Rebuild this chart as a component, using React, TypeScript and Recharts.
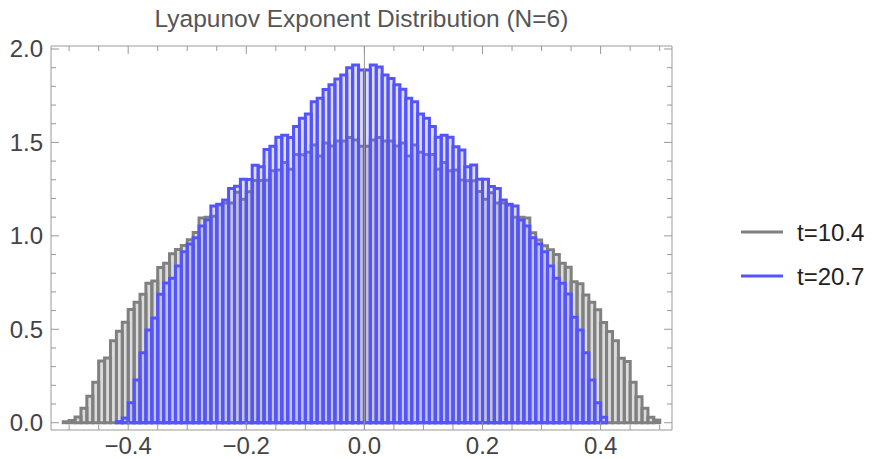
import React from 'react';
import { ComposedChart, Bar, XAxis, YAxis, ReferenceLine, Legend } from 'recharts';

// Histogram bins: left edge of first bin and bin width
const BIN_START = -0.51;
const BIN_WIDTH = 0.01;
const BLUE_START = -0.42;

// t=10.4 (gray) bin heights, bins from -0.51 to 0.50
const GRAY_T104 = [
  0.005, 0.012, 0.03, 0.078, 0.142, 0.217, 0.33, 0.346, 0.439, 0.489,
  0.537, 0.606, 0.645, 0.688, 0.747, 0.758, 0.83, 0.853, 0.904, 0.927,
  0.948, 0.979, 1.018, 1.096, 1.1, 1.105, 1.165, 1.176, 1.176, 1.233,
  1.196, 1.236, 1.296, 1.296, 1.297, 1.349, 1.353, 1.392, 1.356, 1.436,
  1.434, 1.447, 1.486, 1.427, 1.497, 1.481, 1.508, 1.508, 1.526, 1.513,
  1.479, 1.479, 1.513, 1.526, 1.508, 1.508, 1.481, 1.497, 1.427, 1.486,
  1.447, 1.436, 1.436, 1.356, 1.392, 1.349, 1.353, 1.299, 1.295, 1.295,
  1.237, 1.196, 1.231, 1.176, 1.176, 1.165, 1.1, 1.1, 1.096, 1.017,
  0.978, 0.947, 0.926, 0.9, 0.853, 0.832, 0.755, 0.743, 0.684, 0.645,
  0.604, 0.536, 0.488, 0.438, 0.345, 0.327, 0.216, 0.139, 0.077, 0.029,
  0.014,
];

// t=20.7 (blue) bin heights, bins from -0.42 to 0.41
const BLUE_T207 = [
  0.006, 0.025, 0.107, 0.228, 0.374, 0.496, 0.561, 0.688, 0.748, 0.773,
  0.839, 0.915, 0.956, 0.99, 1.053, 1.085, 1.16, 1.169, 1.192, 1.254,
  1.266, 1.303, 1.302, 1.378, 1.37, 1.462, 1.479, 1.528, 1.539, 1.526,
  1.585, 1.63, 1.652, 1.718, 1.736, 1.783, 1.808, 1.84, 1.861, 1.9,
  1.914, 1.888,
  1.888, 1.914, 1.903, 1.861, 1.842, 1.808, 1.785, 1.736, 1.718, 1.652,
  1.63, 1.585, 1.528, 1.538, 1.528, 1.477, 1.46, 1.37, 1.379, 1.303,
  1.303, 1.264, 1.254, 1.192, 1.169, 1.16, 1.085, 1.053, 0.99, 0.956,
  0.915, 0.839, 0.773, 0.746, 0.689, 0.564, 0.496, 0.375, 0.229, 0.107,
  0.029,
];

const X_TICKS = [-0.5, -0.45, -0.4, -0.35, -0.3, -0.25, -0.2, -0.15, -0.1, -0.05, 0, 0.05, 0.1, 0.15, 0.2, 0.25, 0.3, 0.35, 0.4, 0.45, 0.5];
const X_LABELED = [-0.4, -0.2, 0, 0.2, 0.4];
const Y_TICKS = [0, 0.1, 0.2, 0.3, 0.4, 0.5, 0.6, 0.7, 0.8, 0.9, 1, 1.1, 1.2, 1.3, 1.4, 1.5, 1.6, 1.7, 1.8, 1.9, 2];
const Y_LABELED = [0, 0.5, 1, 1.5, 2];
const X_DOMAIN: [number, number] = [-0.5307, 0.5209];
const Y_DOMAIN: [number, number] = [-0.039, 2.016];

const SERIES = [
  { key: 'gray', name: 't=10.4', color: '#808080' },
  { key: 'blue', name: 't=20.7', color: '#5454ff' },
];

const TITLE = 'Lyapunov Exponent Distribution (N=6)';
const FONT = '"Liberation Sans", Arial, sans-serif';
const FRAME = '#999999';

const blueOffset = Math.round((BLUE_START - BIN_START) / BIN_WIDTH);
const rows = GRAY_T104.map((g, i) => {
  const bi = i - blueOffset;
  return {
    x: Math.round((BIN_START + (i + 0.5) * BIN_WIDTH) * 10000) / 10000,
    gray: g,
    blue: bi >= 0 && bi < BLUE_T207.length ? BLUE_T207[bi] : undefined,
  };
});

const isIn = (v: number, arr: number[]) => arr.some((m) => Math.abs(m - v) < 1e-6);
const fmt = (v: number) => (v < -1e-9 ? '\u2212' : '') + Math.abs(v).toFixed(1);

const MAJOR = 8;
const MINOR = 5;

const BottomTick = (props: any) => {
  const { x, y, payload } = props;
  const major = isIn(payload.value, X_LABELED);
  return (
    <g>
      <line x1={x} x2={x} y1={y} y2={y - (major ? MAJOR : MINOR)} stroke={FRAME} strokeWidth={1} />
      {major && (
        <text x={x} y={y + 24} textAnchor="middle" fontSize={24} fontFamily={FONT} fill="#444">
          {fmt(payload.value)}
        </text>
      )}
    </g>
  );
};

const TopTick = (props: any) => {
  const { x, y, payload } = props;
  const major = isIn(payload.value, X_LABELED);
  return <line x1={x} x2={x} y1={y} y2={y + (major ? MAJOR : MINOR)} stroke={FRAME} strokeWidth={1} />;
};

const LeftTick = (props: any) => {
  const { x, y, payload } = props;
  const major = isIn(payload.value, Y_LABELED);
  return (
    <g>
      <line x1={x} x2={x + (major ? MAJOR : MINOR)} y1={y} y2={y} stroke={FRAME} strokeWidth={1} />
      {major && (
        <text x={x - 8} y={y + 8.5} textAnchor="end" fontSize={24} fontFamily={FONT} fill="#444">
          {fmt(payload.value)}
        </text>
      )}
    </g>
  );
};

const RightTick = (props: any) => {
  const { x, y, payload } = props;
  const major = isIn(payload.value, Y_LABELED);
  return <line x1={x} x2={x - (major ? MAJOR : MINOR)} y1={y} y2={y} stroke={FRAME} strokeWidth={1} />;
};

const LegendContent = (props: any) => {
  const payload = props.payload || [];
  const items = SERIES.filter((s) => payload.some((p: any) => p.dataKey === s.key || p.value === s.name));
  const list = items.length ? items : SERIES;
  return (
    <svg width={131} height={90}>
      {list.map((s, i) => (
        <g key={s.key}>
          <line x1={0} x2={42} y1={22 + i * 44} y2={22 + i * 44} stroke={s.color} strokeWidth={3} />
          <text x={56} y={30.5 + i * 44} fontSize={24} fontFamily={FONT} fill="#222">
            {s.name}
          </text>
        </g>
      ))}
    </svg>
  );
};

export default function App() {
  return (
    <div style={{ position: 'absolute', left: 0, top: 0, width: 872, height: 459, background: '#fff' }}>
      <div
        style={{
          position: 'absolute',
          left: 51,
          width: 621,
          top: 4,
          textAlign: 'center',
          fontFamily: FONT,
          fontSize: 24.5,
          color: '#555555',
          lineHeight: '30px',
          whiteSpace: 'nowrap',
        }}
      >
        {TITLE}
      </div>
      <ComposedChart
        width={872}
        height={459}
        data={rows}
        margin={{ top: 45, right: 199, bottom: 0, left: 11 }}
        barCategoryGap={0}
        barGap={0}
      >
        <XAxis
          xAxisId="bottom"
          dataKey="x"
          type="number"
          domain={X_DOMAIN}
          allowDataOverflow
          ticks={X_TICKS}
          interval={0}
          tick={(p: any) => <BottomTick {...p} />}
          tickLine={false}
          tickSize={0}
          tickMargin={0}
          height={29}
          axisLine={{ stroke: FRAME }}
        />
        <XAxis
          xAxisId="top"
          orientation="top"
          dataKey="x"
          type="number"
          domain={X_DOMAIN}
          allowDataOverflow
          ticks={X_TICKS}
          interval={0}
          tick={(p: any) => <TopTick {...p} />}
          tickLine={false}
          tickSize={0}
          tickMargin={0}
          height={1}
          axisLine={{ stroke: FRAME }}
        />
        <YAxis
          yAxisId="left"
          type="number"
          domain={Y_DOMAIN}
          allowDataOverflow
          ticks={Y_TICKS}
          interval={0}
          tick={(p: any) => <LeftTick {...p} />}
          tickLine={false}
          tickSize={0}
          tickMargin={0}
          width={40}
          axisLine={{ stroke: FRAME }}
        />
        <YAxis
          yAxisId="right"
          orientation="right"
          type="number"
          domain={Y_DOMAIN}
          allowDataOverflow
          ticks={Y_TICKS}
          interval={0}
          tick={(p: any) => <RightTick {...p} />}
          tickLine={false}
          tickSize={0}
          tickMargin={0}
          width={1}
          axisLine={{ stroke: FRAME }}
        />
        <Bar
          xAxisId="bottom"
          yAxisId="left"
          dataKey="gray"
          name={SERIES[0].name}
          fill={SERIES[0].color}
          fillOpacity={0.28}
          stroke={SERIES[0].color}
          strokeWidth={3}
          isAnimationActive={false}
        />
        <Bar
          xAxisId="top"
          yAxisId="right"
          dataKey="blue"
          name={SERIES[1].name}
          fill={SERIES[1].color}
          fillOpacity={0.2}
          stroke={SERIES[1].color}
          strokeWidth={3}
          isAnimationActive={false}
        />
        <ReferenceLine xAxisId="bottom" yAxisId="left" x={0} stroke={FRAME} strokeWidth={1} />
        <Legend
          layout="vertical"
          align="center"
          verticalAlign="middle"
          content={(p: any) => <LegendContent {...p} />}
          wrapperStyle={{ left: 741, top: 210, width: 131, height: 90 }}
        />
      </ComposedChart>
    </div>
  );
}
